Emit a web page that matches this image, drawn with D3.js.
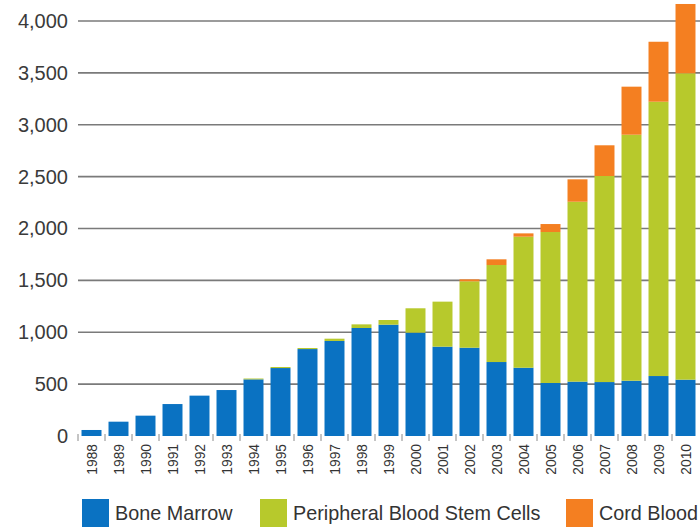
<!DOCTYPE html>
<html>
<head>
<meta charset="utf-8">
<script src="https://cdn.jsdelivr.net/npm/d3@7"></script>
<style>
  html, body { margin: 0; padding: 0; background: #fff; }
  svg { display: block; font-family: "Liberation Sans", Arial, sans-serif; }
</style>
</head>
<body>
<svg id="chart" width="700" height="527"></svg>
<script>
// Transplants by graft source, per year
const years = ["1988","1989","1990","1991","1992","1993","1994","1995","1996","1997","1998","1999",
               "2000","2001","2002","2003","2004","2005","2006","2007","2008","2009","2010"];
const boneMarrow = [58,138,196,308,389,443,546,655,838,916,1041,1073,
                    996,861,851,713,658,511,524,520,533,578,543];
const peripheralBlood = [0,0,0,0,0,0,8,10,10,22,35,45,
                         235,434,640,935,1263,1455,1734,1986,2371,2644,2953];
const cordBlood = [0,0,0,0,0,0,0,0,0,0,0,0,
                   0,0,19,55,32,77,216,296,463,578,668];
const seriesNames = ["Bone Marrow","Peripheral Blood Stem Cells","Cord Blood"];
const seriesColors = ["#0a72c2","#b7c92c","#f47f21"];
const yTicks = [0,500,1000,1500,2000,2500,3000,3500,4000];

const svg = d3.select("#chart");

const x = d3.scaleBand().domain(years).range([78, 699]).paddingInner(0.26).paddingOuter(0.13);
const y = d3.scaleLinear().domain([0, 4000]).range([436, 21]);

// Horizontal gridlines
svg.append("g").selectAll("line").data(yTicks.filter(d => d > 0)).join("line")
  .attr("x1", 78).attr("x2", 700)
  .attr("y1", d => y(d)).attr("y2", d => y(d))
  .attr("stroke", "#7a7a7a").attr("stroke-width", 1.6);

// Y axis labels
const yAxis = d3.axisLeft(y).tickValues(yTicks).tickSize(0).tickPadding(0)
  .tickFormat(d3.format(","));
svg.append("g").attr("transform", "translate(68,0)").call(yAxis)
  .call(g => g.select(".domain").remove())
  .call(g => g.selectAll("text").attr("font-size", 20).attr("fill", "#3a3a3a")
    .attr("font-family", "'Liberation Sans', Arial, sans-serif"));

// Stacked bars
const table = years.map((yr, i) => ({ year: yr, bm: boneMarrow[i], pb: peripheralBlood[i], cb: cordBlood[i] }));
const stack = d3.stack().keys(["bm","pb","cb"])(table);
svg.append("g").selectAll("g").data(stack).join("g")
  .attr("fill", (d, i) => seriesColors[i])
  .selectAll("rect").data(d => d.filter(s => s[1] > s[0])).join("rect")
  .attr("x", d => x(d.data.year))
  .attr("width", x.bandwidth())
  .attr("y", d => y(d[1]))
  .attr("height", d => y(d[0]) - y(d[1]));

// Category ticks between bars along the baseline
const step = x.step();
svg.append("g").selectAll("line").data(years).join("line")
  .attr("x1", d => x(d) - (step - x.bandwidth()) / 2)
  .attr("x2", d => x(d) - (step - x.bandwidth()) / 2)
  .attr("y1", 434).attr("y2", 441)
  .attr("stroke", "#8a8a8a").attr("stroke-width", 1);

// Rotated year labels
svg.append("g").selectAll("text").data(years).join("text")
  .attr("transform", d => `translate(${x(d) + x.bandwidth() / 2 + 5},444) rotate(-90)`)
  .attr("text-anchor", "end")
  .attr("font-size", 13.8).attr("fill", "#333")
  .text(d => d);

// Legend
const legendX = [82, 260, 566];
const lg = svg.append("g").selectAll("g").data(seriesNames).join("g")
  .attr("transform", (d, i) => `translate(${legendX[i]},499)`);
lg.append("rect").attr("width", 27).attr("height", 28).attr("fill", (d, i) => seriesColors[i]);
lg.append("text").attr("x", 33).attr("y", 21).attr("font-size", 19.8).attr("fill", "#333").text(d => d);
</script>
</body>
</html>
